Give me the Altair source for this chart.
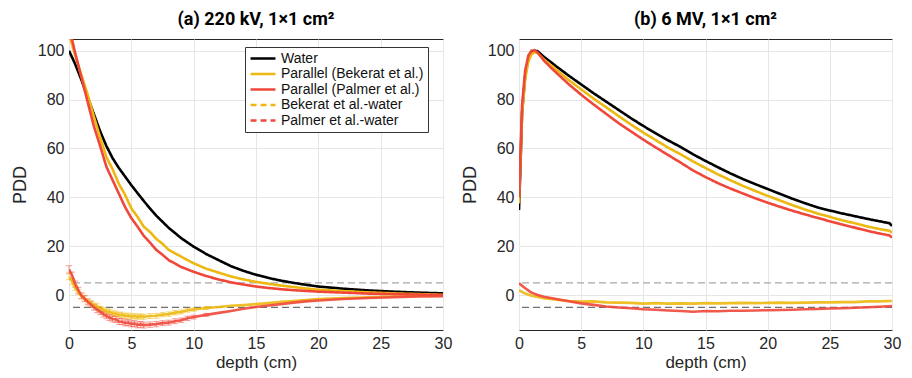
import altair as alt
import pandas as pd

SERIES = ["Water", "Parallel (Bekerat et al.)", "Parallel (Palmer et al.)",
          "Bekerat et al.-water", "Palmer et al.-water"]
COLORS = ["#000000", "#EDB80F", "#F0473A", "#EDB80F", "#F0473A"]

# ---------------- panel (a) 220 kV ----------------
A_D_MAIN = [0, 0.5, 1, 1.5, 2, 2.5, 3, 3.5, 4, 4.5, 5, 5.5, 6, 6.5, 7, 7.5, 8, 9, 10, 11, 12, 13, 14,
            15, 16, 17, 18, 19, 20, 22, 24, 26, 28, 30]
A_WATER = [100, 94.5, 88, 81, 74, 67, 61, 56, 52, 48.5, 45, 41.7, 38.5, 35.4, 32.5, 30, 27.5, 23.3, 19.8,
           16.8, 14.3, 11.8, 9.9, 8.3, 7.0, 5.9, 5.0, 4.2, 3.5, 2.6, 1.9, 1.4, 1.0, 0.7]
A_BEKERAT = [107, 98, 90, 82, 73, 64.5, 56.5, 51.5, 45.5, 41, 35.5, 32, 28, 25.8, 23, 21, 18.5, 15.7, 13,
             10.8, 9.2, 7.6, 6.4, 5.4, 4.6, 3.9, 3.3, 2.7, 2.2, 1.6, 1.1, 0.7, 0.4, 0.1]
A_PALMER = [110, 99, 89, 79, 69, 61, 52.5, 47, 41.5, 36, 31.5, 28, 24.2, 21.5, 18.5, 16.5, 14.3, 11.5,
            9.5, 7.8, 6.4, 5.2, 4.3, 3.5, 2.9, 2.4, 2.0, 1.7, 1.4, 1.0, 0.6, 0.4, 0.2, 0.0]

A_D_DIFF = [0, 0.25, 0.5, 0.75, 1, 1.25, 1.5, 1.75, 2, 2.25, 2.5, 2.75, 3, 3.25, 3.5, 3.75, 4, 4.25,
            4.5, 4.75, 5, 5.25, 5.5, 5.75, 6, 6.5, 7, 7.5, 8, 8.5, 9, 9.5, 10, 11, 12, 13, 14, 15, 16,
            17, 18, 19, 20, 22, 24, 26, 28, 30]
A_BEKERAT_DIFF = [7.5, 5.5, 3.0, 1.2, -0.5, -1.3, -2.6, -3.2, -4.2, -4.6, -5.6, -6.0, -6.6, -6.8, -7.5,
                  -7.6, -8.1, -8.0, -8.5, -8.4, -8.8, -8.6, -8.9, -8.7, -8.9, -8.6, -8.5, -8.0, -7.8,
                  -7.2, -6.9, -6.2, -5.9, -5.3, -4.9, -4.4, -4.1, -3.7, -3.3, -2.8, -2.4, -2.0, -1.6,
                  -1.2, -0.9, -0.6, -0.4, -0.3]
A_PALMER_DIFF = [10.5, 8.0, 4.5, 2.0, -0.3, -1.5, -2.8, -3.8, -5.0, -6.0, -6.8, -7.8, -8.5, -9.2, -9.8,
                 -10.0, -10.8, -10.9, -11.4, -11.3, -11.8, -11.7, -12.2, -12.0, -12.3, -12.1, -11.9,
                 -11.5, -11.3, -10.7, -10.3, -9.5, -9.0, -8.1, -7.3, -6.5, -5.6, -4.9, -4.3, -3.7,
                 -3.1, -2.6, -2.2, -1.6, -1.2, -0.9, -0.6, -0.5]
A_BEKERAT_ERR = [1.2, 1.1, 1.0, 1.0, 1.0, 1.0, 1.0, 1.0, 1.0, 1.0, 1.0, 1.0, 1.0, 1.0, 1.0, 1.0, 1.0,
                 1.0, 1.0, 1.0, 1.0, 1.0, 1.0, 1.0, 1.0, 1.0, 1.0, 0.9, 0.9, 0.9, 0.8, 0.8, 0.7, 0.6,
                 0, 0, 0, 0, 0, 0, 0, 0, 0, 0, 0, 0, 0, 0]
A_PALMER_ERR = [1.5, 1.4, 1.3, 1.2, 1.2, 1.2, 1.2, 1.2, 1.2, 1.2, 1.2, 1.2, 1.2, 1.2, 1.2, 1.2, 1.2,
                1.2, 1.2, 1.2, 1.2, 1.2, 1.2, 1.2, 1.2, 1.1, 1.1, 1.0, 1.0, 1.0, 0.9, 0.9, 0.8, 0.6,
                0, 0, 0, 0, 0, 0, 0, 0, 0, 0, 0, 0, 0, 0]

# ---------------- panel (b) 6 MV ----------------
B_D_MAIN = [0, 0.1, 0.25, 0.5, 0.75, 1, 1.25, 1.5, 2, 2.5, 3, 4, 5, 6, 7, 8, 9, 10, 11, 12, 13, 14, 15,
            16, 17, 18, 19, 20, 21, 22, 23, 24, 25, 26, 27, 28, 29, 29.8, 30]
B_WATER = [34.8, 50, 75, 90, 96.5, 99.3, 100, 99.8, 97.5, 95.6, 93.6, 89.8, 86.2, 82.6, 79.2, 75.8,
           72.4, 69.2, 66.2, 63.3, 60.6, 57.6, 54.9, 52.3, 49.8, 47.5, 45.4, 43.4, 41.4, 39.4, 37.6,
           35.9, 34.6, 33.4, 32.3, 31.2, 30.2, 29.4, 28.3]
B_BEKERAT = [37.5, 52, 74, 88.5, 95.5, 98.6, 99.4, 99, 96.5, 94.3, 92.2, 88.0, 84.2, 80.4, 76.9, 73.3,
             69.8, 66.5, 63.4, 60.3, 57.6, 54.7, 52.0, 49.4, 47.0, 44.7, 42.6, 40.6, 38.7, 36.8, 35.0,
             33.4, 32.0, 30.6, 29.4, 28.1, 27.0, 26.3, 25.5]
B_PALMER = [40, 55, 78, 92, 98, 100, 100.2, 99.3, 96, 93.4, 91.0, 86.3, 82.0, 78.0, 74.2, 70.4, 67.0,
            63.6, 60.4, 57.3, 54.2, 51.0, 48.3, 45.8, 43.6, 41.6, 39.6, 37.8, 36.1, 34.5, 33.0, 31.6,
            30.2, 28.9, 27.6, 26.3, 25.2, 24.4, 23.5]

B_D_DIFF = [0, 0.5, 1, 1.5, 2, 3, 4, 5, 6, 7, 8, 9, 10, 11, 12, 13, 14, 15, 16, 17, 18, 19, 20, 21, 22,
            23, 24, 25, 26, 27, 28, 29, 30]
B_BEKERAT_DIFF = [2.0, 0.6, -0.3, -0.8, -1.3, -1.9, -2.4, -2.7, -2.6, -3.0, -3.1, -3.2, -3.5, -3.3,
                  -3.5, -3.4, -3.5, -3.3, -3.4, -3.3, -3.2, -3.3, -3.2, -3.1, -3.2, -3.1, -3.0, -3.0,
                  -2.9, -2.9, -2.6, -2.6, -2.4]
B_PALMER_DIFF = [4.8, 2.8, 1.0, 0.0, -0.7, -1.6, -2.5, -3.4, -4.0, -4.7, -5.1, -5.4, -5.8, -6.0, -6.3,
                 -6.5, -6.8, -6.5, -6.6, -6.4, -6.4, -6.3, -6.2, -6.1, -6.0, -5.8, -5.7, -5.5, -5.4,
                 -5.2, -5.0, -4.8, -4.5]

DASH_LEVELS = [5, -5]
X_TICKS = [0, 5, 10, 15, 20, 25, 30]
Y_TICKS = [0, 20, 40, 60, 80, 100]
Y_DOMAIN = [-14.3, 104.8]
X_DOMAIN = [0, 30]


def long(depths, values, name, errs=None):
    df = pd.DataFrame({"depth": depths, "pdd": values, "series": name})
    if errs is not None:
        df["lo"] = [v - e for v, e in zip(values, errs)]
        df["hi"] = [v + e for v, e in zip(values, errs)]
        df["err"] = errs
    return df


FONT = "Liberation Sans"


def panel(main_df, diff_df, err_df, title, show_legend, width):
    xs = alt.Scale(domain=X_DOMAIN, nice=False, padding=0, zero=False)
    ys = alt.Scale(domain=Y_DOMAIN, nice=False, zero=False, padding=0)
    x = alt.X("depth:Q", scale=xs, axis=alt.Axis(values=X_TICKS, title="depth (cm)", labelFlush=False))
    y = alt.Y("pdd:Q", scale=ys, axis=alt.Axis(values=Y_TICKS, title="PDD", labelFlush=False))
    if show_legend:
        leg = alt.Legend(orient="none", legendX=176, legendY=8, title=None,
                         symbolType="stroke", symbolSize=620, clipHeight=15,
                         labelFontSize=14, labelFont=FONT, labelColor="#111111",
                         strokeColor="#333333", fillColor="white", padding=4,
                         rowPadding=0.5, labelLimit=400, cornerRadius=0,
                         symbolStrokeWidth=2.6, symbolOpacity=1, labelOffset=4)
    else:
        leg = None
    color = alt.Color("series:N", scale=alt.Scale(domain=SERIES, range=COLORS), legend=leg)
    dash = alt.StrokeDash("series:N",
                          scale=alt.Scale(domain=SERIES,
                                          range=[[1, 0], [1, 0], [1, 0], [6, 4], [6, 4]]),
                          legend=leg)

    rule_hi = alt.Chart(pd.DataFrame({"pdd": DASH_LEVELS[:1]})).mark_rule(
        color="#a8a8a8", strokeDash=[7, 4], strokeWidth=1.3).encode(y=alt.Y("pdd:Q", scale=ys))
    rule_lo = alt.Chart(pd.DataFrame({"pdd": DASH_LEVELS[1:]})).mark_rule(
        color="#707070", strokeDash=[7, 4], strokeWidth=1.3).encode(y=alt.Y("pdd:Q", scale=ys))

    layers = [rule_hi, rule_lo]
    if err_df is not None:
        e = err_df[err_df["err"] > 0]
        base = alt.Chart(e).encode(x=x, color=color)
        layers.append(base.mark_rule(strokeWidth=1, opacity=0.55).encode(
            y=alt.Y("lo:Q", scale=ys), y2="hi:Q"))
        layers.append(base.mark_tick(orient="horizontal", size=6, thickness=1, opacity=0.55).encode(
            y=alt.Y("lo:Q", scale=ys)))
        layers.append(base.mark_tick(orient="horizontal", size=6, thickness=1, opacity=0.55).encode(
            y=alt.Y("hi:Q", scale=ys)))

    layers.append(alt.Chart(diff_df).mark_line(strokeWidth=2.6, clip=True, opacity=0.9).encode(
        x=x, y=y, color=color, detail="series:N"))
    layers.append(alt.Chart(main_df).mark_line(strokeWidth=2.6, clip=True).encode(
        x=x, y=y, color=color, strokeDash=dash))

    return alt.layer(*layers).properties(
        width=width, height=291,
        title=alt.TitleParams(title, font="Roboto", fontSize=18, fontWeight="bold",
                              color="#000000", anchor="middle", offset=10))


a_main = pd.concat([long(A_D_MAIN, A_WATER, SERIES[0]),
                    long(A_D_MAIN, A_BEKERAT, SERIES[1]),
                    long(A_D_MAIN, A_PALMER, SERIES[2])])
a_diff = pd.concat([long(A_D_DIFF, A_BEKERAT_DIFF, SERIES[3], A_BEKERAT_ERR),
                    long(A_D_DIFF, A_PALMER_DIFF, SERIES[4], A_PALMER_ERR)])
b_main = pd.concat([long(B_D_MAIN, B_WATER, SERIES[0]),
                    long(B_D_MAIN, B_BEKERAT, SERIES[1]),
                    long(B_D_MAIN, B_PALMER, SERIES[2])])
b_diff = pd.concat([long(B_D_DIFF, B_BEKERAT_DIFF, SERIES[3]),
                    long(B_D_DIFF, B_PALMER_DIFF, SERIES[4])])

left = panel(a_main, a_diff[["depth", "pdd", "series"]], a_diff, "(a) 220 kV, 1×1 cm²", True, 374)
right = panel(b_main, b_diff, None, "(b) 6 MV, 1×1 cm²", False, 373)

chart = alt.hconcat(left, right, spacing=7).resolve_scale(
    color="independent", strokeDash="independent"
).configure_view(stroke="#262626", strokeWidth=1).configure_axis(
    labelFont=FONT, labelFontSize=16, labelColor="#262626",
    titleFont=FONT, titleFontSize=18, titleColor="#262626", titleFontWeight="normal",
    gridColor="#e6e6e6", gridWidth=1, domain=False, ticks=False, labelPadding=5
).configure_axisX(titleFontSize=17, titlePadding=3).configure_axisY(titlePadding=8).properties(
    padding={"left": 10, "top": 10, "right": 5, "bottom": 5},
    background="white"
)

chart.save("out.html", embed_options={"renderer": "svg", "actions": False})
